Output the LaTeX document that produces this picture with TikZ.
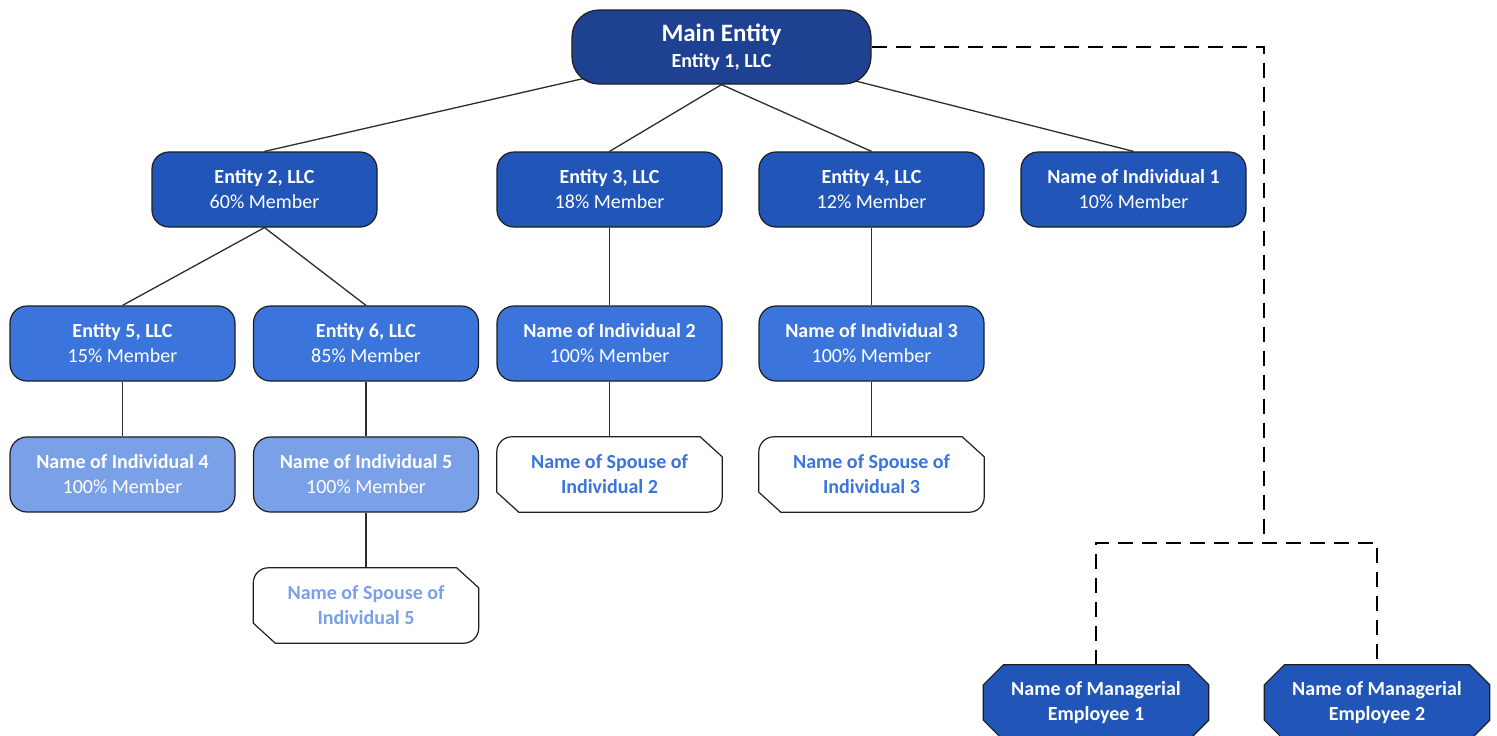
\documentclass[tikz,border=0pt]{standalone}
\usepackage{fontspec}
\setmainfont{Carlito}
\usetikzlibrary{calc}
\pgfdeclarelayer{bg}
\pgfdeclarelayer{lines}
\pgfdeclarelayer{shapes}
\pgfsetlayers{bg,lines,shapes,main}
\definecolor{colM}{RGB}{31,65,145}
\definecolor{colA}{RGB}{33,86,184}
\definecolor{colB}{RGB}{59,117,219}
\definecolor{colC}{RGB}{122,160,232}
\definecolor{edgecol}{RGB}{30,30,30}
\definecolor{conncol}{RGB}{45,45,45}
\tikzset{
  box/.style={draw=edgecol, line width=1.2pt, rounded corners=17pt, minimum width=225pt, minimum height=75pt,
    inner sep=0pt, align=center, text=white, font=\fontsize{20}{25}\selectfont},
  mainbox/.style={box, fill=colM, minimum width=299pt, minimum height=74pt, rounded corners=27pt},
  boxA/.style={box, fill=colA},
  boxB/.style={box, fill=colB},
  boxC/.style={box, fill=colC},
  ghost/.style={minimum width=225pt, minimum height=75pt, inner sep=0pt, align=center, font=\fontsize{20}{25}\selectfont\bfseries},
  shapeline/.style={draw=edgecol, line width=1.2pt, line join=round},
  conn/.style={draw=conncol, line width=1.3pt},
  dconn/.style={draw=black, line width=1.8pt, dash pattern=on 15pt off 9pt}
}
\newcommand\spshape[1]{%
  \draw[shapeline,fill=white] ($(#1.north west)+(15pt,0pt)$) -- ($(#1.north east)+(-22pt,0pt)$) -- ($(#1.north east)+(0pt,-20pt)$)
   -- ($(#1.south east)+(0pt,15pt)$) arc[start angle=0,end angle=-90,radius=15pt]
   -- ($(#1.south west)+(22pt,0pt)$) -- ($(#1.south west)+(0pt,20pt)$)
   -- ($(#1.north west)+(0pt,-15pt)$) arc[start angle=180,end angle=90,radius=15pt] -- cycle;}
\newcommand\octshape[1]{%
  \draw[shapeline,fill=colA] ($(#1.north west)+(20pt,0pt)$) -- ($(#1.north east)+(-20pt,0pt)$) -- ($(#1.north east)+(0pt,-20pt)$)
   -- ($(#1.south east)+(0pt,20pt)$) -- ($(#1.south east)+(-20pt,0pt)$) -- ($(#1.south west)+(20pt,0pt)$)
   -- ($(#1.south west)+(0pt,20pt)$) -- ($(#1.north west)+(0pt,-20pt)$) -- cycle;}
\begin{document}
\begin{tikzpicture}[x=1pt,y=1pt]
\begin{pgfonlayer}{bg}
\fill[white] (0,0) rectangle (1497,-736);
\end{pgfonlayer}
\useasboundingbox (0,0) rectangle (1497,-736);
% nodes
\node[mainbox] (main) at (721.5,-47) {{\fontsize{25}{27}\selectfont\bfseries Main Entity}\\[1pt]\bfseries Entity 1, LLC};
\node[boxA] (e2) at (264.5,-189.5) {{\bfseries Entity 2, LLC}\\60\% Member};
\node[boxA] (e3) at (609.5,-189.5) {{\bfseries Entity 3, LLC}\\18\% Member};
\node[boxA] (e4) at (871.5,-189.5) {{\bfseries Entity 4, LLC}\\12\% Member};
\node[boxA] (i1) at (1133.5,-189.5) {{\bfseries Name of Individual 1}\\10\% Member};
\node[boxB] (e5) at (122.5,-343.5) {{\bfseries Entity 5, LLC}\\15\% Member};
\node[boxB] (e6) at (366,-343.5) {{\bfseries Entity 6, LLC}\\85\% Member};
\node[boxB] (i2) at (609.5,-343.5) {{\bfseries Name of Individual 2}\\100\% Member};
\node[boxB] (i3) at (871.5,-343.5) {{\bfseries Name of Individual 3}\\100\% Member};
\node[boxC] (i4) at (122.5,-474.5) {{\bfseries Name of Individual 4}\\100\% Member};
\node[boxC] (i5) at (366,-474.5) {{\bfseries Name of Individual 5}\\100\% Member};
\node[ghost, text=colB] (s2) at (609.5,-474.5) {Name of Spouse of\\Individual 2};
\node[ghost, text=colB] (s3) at (871.5,-474.5) {Name of Spouse of\\Individual 3};
\node[ghost, text=colC] (s5) at (366,-605.5) {Name of Spouse of\\Individual 5};
\node[ghost, text=white] (m1) at (1096,-702.5) {Name of Managerial\\Employee 1};
\node[ghost, text=white] (m2) at (1377,-702.5) {Name of Managerial\\Employee 2};
% shapes
\begin{pgfonlayer}{shapes}
\spshape{s2}
\spshape{s3}
\spshape{s5}
\octshape{m1}
\octshape{m2}
\end{pgfonlayer}
% connectors
\begin{pgfonlayer}{lines}
\draw[conn] (main.center) -- (e2.north);
\draw[conn] (main.south) -- (e3.north);
\draw[conn] (main.south) -- (e4.north);
\draw[conn] (main.center) -- (i1.north);
\draw[conn] (e2.south) -- (e5.north);
\draw[conn] (e2.south) -- (e6.north);
\draw[conn] (e3) -- (i2);
\draw[conn] (e4) -- (i3);
\draw[conn] (e5) -- (i4);
\draw[conn] (e6) -- (i5);
\draw[conn] (i5) -- (s5);
\draw[conn] (i2) -- (s2);
\draw[conn] (i3) -- (s3);
\draw[dconn] (main.east) -- (1264,-47) -- (1264,-543) coordinate (j);
\draw[dconn] (m1.north) |- (j) -| (m2.north);
\end{pgfonlayer}
\end{tikzpicture}
\end{document}
